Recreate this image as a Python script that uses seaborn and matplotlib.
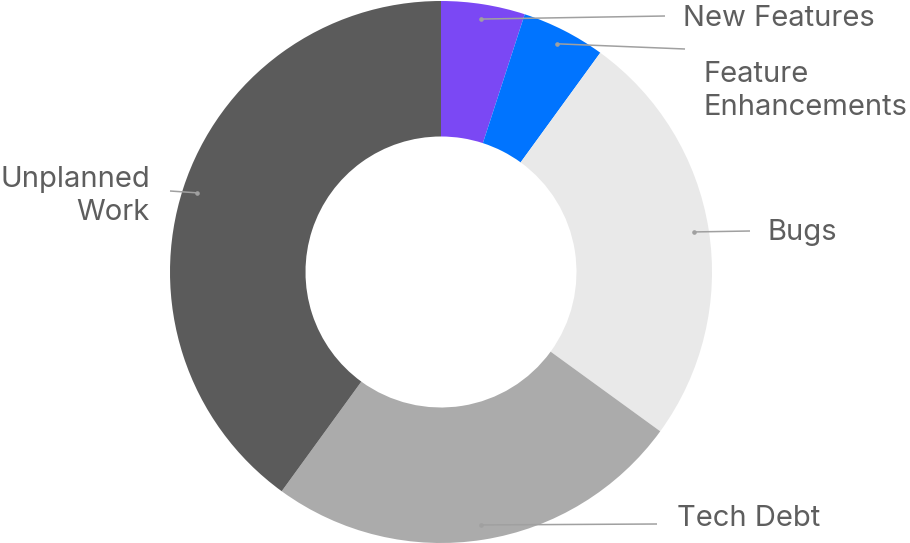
import numpy as np
import matplotlib
matplotlib.use("Agg")
import matplotlib.pyplot as plt
import seaborn as sns

# data
categories = ["New Features", "Feature\nEnhancements", "Bugs", "Tech Debt", "Unplanned\nWork"]
shares = [5, 5, 25, 25, 40]
colors = ["#7B48F4", "#0074FF", "#E9E9E9", "#ABABAB", "#5B5B5B"]

# label layout (pixel coords, y from top): line end, text anchor, alignment
label_line_end = [(665, 16), (685, 49), (750, 231), (657, 524), (170, 191)]
label_text_pos = [(683, 18), (703, 91), (768, 232), (677, 519), (150, 196)]
label_ha = ["left", "left", "left", "left", "right"]

sns.set_theme(style="white")
plt.rcParams["font.family"] = ["Inter", "DejaVu Sans"]

W, H = 910, 543
fig = plt.figure(figsize=(W / 100, H / 100), dpi=100)
ax = fig.add_axes([0, 0, 1, 1])
ax.set_aspect("equal")
ax.axis("off")

cx, cy, R = 441, H - 272, 271
wedges, _ = ax.pie(shares, colors=colors, startangle=90, counterclock=False,
                   radius=R, center=(cx, cy),
                   wedgeprops=dict(width=R * 0.5, linewidth=0))
ax.set_xlim(0, W)
ax.set_ylim(0, H)

line_col = "#A0A0A0"
text_col = "#5E5E5E"
for w, name, (lx, ly), (tx, ty), ha in zip(wedges, categories, label_line_end, label_text_pos, label_ha):
    mid = np.deg2rad((w.theta1 + w.theta2) / 2)
    px = cx + 0.945 * R * np.cos(mid)
    py = cy + 0.945 * R * np.sin(mid)
    ax.plot([px, lx], [py, H - ly], color=line_col, lw=1.1, solid_capstyle="butt")
    ax.plot(px, py, "o", color=line_col, ms=2.3)
    ax.text(tx, H - ty, name, ha=ha, va="center", fontsize=21, color=text_col,
            linespacing=1.3, multialignment=ha)

fig.savefig("out.png", dpi=100)
